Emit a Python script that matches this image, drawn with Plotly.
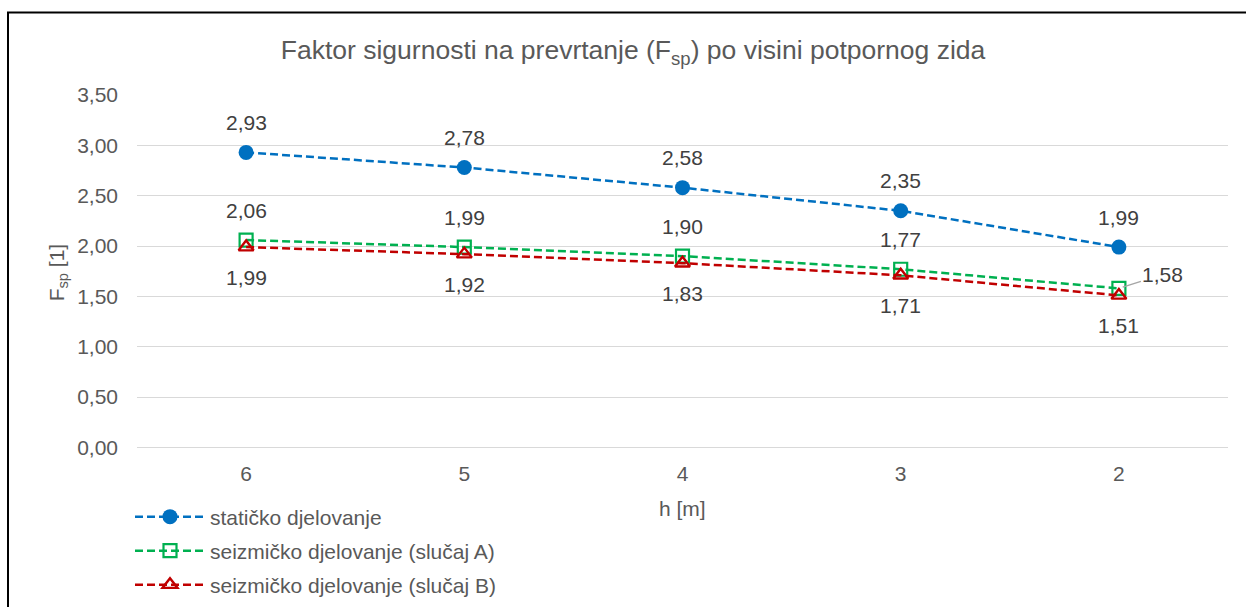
import plotly.graph_objects as go

categories = ["6", "5", "4", "3", "2"]
staticko = [2.93, 2.78, 2.58, 2.35, 1.99]
slucaj_a = [2.06, 1.99, 1.90, 1.77, 1.58]
slucaj_b = [1.99, 1.92, 1.83, 1.71, 1.51]
names = ["statičko djelovanje", "seizmičko djelovanje (slučaj A)", "seizmičko djelovanje (slučaj B)"]
y_ticks = [0, 0.5, 1.0, 1.5, 2.0, 2.5, 3.0, 3.5]

BLUE = "#0070C0"
GREEN = "#00B050"
RED = "#C00000"
TXT = "#595959"
LBL = "#404040"
FONT = "Liberation Sans, Arial, sans-serif"
DASH = "8px,4px"
FS = 21
LW = 2.5

fig = go.Figure()
fig.add_trace(go.Scatter(x=categories, y=staticko, name=names[0], mode="lines+markers",
                         line=dict(color=BLUE, width=LW, dash=DASH),
                         marker=dict(symbol="circle", size=15, color=BLUE),
                         legend="legend"))
fig.add_trace(go.Scatter(x=categories, y=slucaj_a, name=names[1], mode="lines+markers",
                         line=dict(color=GREEN, width=LW, dash=DASH),
                         marker=dict(symbol="square-open", size=13, color=GREEN, line=dict(width=2.2)),
                         legend="legend2"))
fig.add_trace(go.Scatter(x=categories, y=slucaj_b, name=names[2], mode="lines+markers",
                         line=dict(color=RED, width=LW, dash=DASH),
                         marker=dict(symbol="triangle-up-open", size=13, color=RED, line=dict(width=2.4)),
                         legend="legend3"))

annotations = []
def fmt(v):
    return f"{v:.2f}".replace(".", ",")

lblfont = dict(size=FS, color=LBL, family=FONT)
for i, v in enumerate(staticko):
    annotations.append(dict(x=i, y=v, text=fmt(v), showarrow=False, yshift=30,
                            yanchor="middle", font=lblfont))
for i, v in enumerate(slucaj_a):
    if i == len(slucaj_a) - 1:
        annotations.append(dict(x=i, y=v, text=fmt(v), showarrow=True, arrowhead=0,
                                arrowcolor="#A6A6A6", arrowwidth=1.5, ax=44, ay=-14,
                                standoff=4, font=lblfont))
    else:
        annotations.append(dict(x=i, y=v, text=fmt(v), showarrow=False, yshift=30,
                                yanchor="middle", font=lblfont))
for i, v in enumerate(slucaj_b):
    annotations.append(dict(x=i, y=v, text=fmt(v), showarrow=False, yshift=-30,
                            yanchor="middle", font=lblfont))

annotations.append(dict(xref="paper", yref="paper", x=0.5, y=0, yshift=-61,
                        xanchor="center", yanchor="middle",
                        text="h [m]", showarrow=False,
                        font=dict(size=FS, color=TXT, family=FONT)))
annotations.append(dict(xref="paper", yref="paper", x=-0.0724, y=0.497,
                        xanchor="center", yanchor="middle",
                        text="F<sub>sp</sub> [1]", showarrow=False, textangle=-90,
                        font=dict(size=FS, color=TXT, family=FONT)))

legfont = dict(size=FS, color=TXT, family=FONT)
LX = (130 - 137) / 1091
def leg(row_px):
    return dict(x=LX, xref="paper", y=1 - row_px / 607, yref="container",
                xanchor="left", yanchor="middle", itemwidth=70,
                font=legfont, bgcolor="rgba(0,0,0,0)")

fig.update_layout(
    width=1246, height=607,
    margin=dict(l=137, r=18, t=95, b=158),
    paper_bgcolor="white", plot_bgcolor="white",
    separators=",.",
    font=dict(family=FONT, color=TXT, size=FS),
    title=dict(text="Faktor sigurnosti na prevrtanje (F<sub>sp</sub>) po visini potpornog zida",
               x=633 / 1246, xref="container", xanchor="center", y=1 - 50 / 607, yref="container",
               yanchor="middle", font=dict(size=26.5, color=TXT, family=FONT)),
    xaxis=dict(type="category", range=[-0.5, 4.5], showgrid=False, zeroline=False,
               showline=False, ticks="", ticklabelstandoff=11, tickfont=dict(size=FS, color=TXT)),
    yaxis=dict(range=[0, 3.5], tickvals=y_ticks, tickformat=".2f", showgrid=True,
               gridcolor="#D9D9D9", gridwidth=1.3, zeroline=True, zerolinecolor="#D9D9D9",
               zerolinewidth=1.3, showline=False, ticks="", ticklabelstandoff=18,
               tickfont=dict(size=FS, color=TXT)),
    legend=leg(517),
    legend2=leg(551),
    legend3=leg(585),
    annotations=annotations,
    shapes=[dict(type="rect", xref="paper", yref="paper", x0=(8 - 137) / 1091, x1=1.05,
                 y0=-0.6, y1=(449.3 - 12) / 354.3, line=dict(color="#000000", width=2),
                 fillcolor="rgba(0,0,0,0)", layer="below")],
    showlegend=True,
)

fig.write_html("out.html", config={"displayModeBar": False},
               post_script="document.body.style.margin='0';document.body.style.overflow='hidden';")
